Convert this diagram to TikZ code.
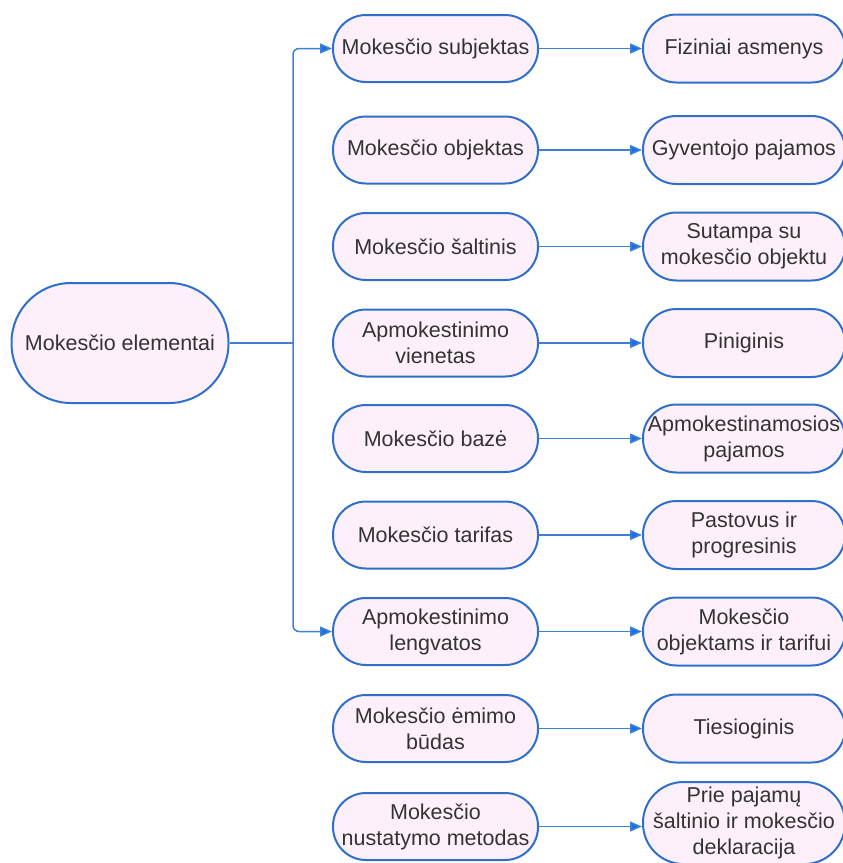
\documentclass[tikz,border=0pt]{standalone}
\usepackage{fontspec}
\setmainfont{Liberation Sans}
\usetikzlibrary{arrows.meta}
\definecolor{boxline}{HTML}{2F6FCB}
\definecolor{boxfill}{HTML}{FDF0FB}
\definecolor{txt}{HTML}{333333}
\definecolor{wire}{HTML}{3F7FD6}
\definecolor{tip}{HTML}{1C6FE3}
\tikzset{
  pill/.style={draw=boxline, line width=2pt, fill=boxfill, shape=rectangle,
    inner sep=0pt, align=center, text=txt,
    font=\fontsize{21.5}{26}\selectfont},
  midbox/.style={pill, minimum width=205pt, minimum height=67pt, rounded corners=33pt},
  outbox/.style={pill, minimum width=202pt, minimum height=68pt, rounded corners=33.5pt},
  wireline/.style={draw=wire, line width=1.5pt},
  link/.style={wireline, -{Triangle[length=12pt,width=10pt,fill=tip]}},
}
\begin{document}
\begin{tikzpicture}[x=1pt,y=-1pt]
\useasboundingbox (0,0) rectangle (843,863);

% root
\node[pill, minimum width=217pt, minimum height=120pt, rounded corners=59.5pt]
  (root) at (120,343) {Mokesčio elementai};

% element names
\node[midbox] (m1) at (435.5,48.5)  {Mokesčio subjektas};
\node[midbox] (m2) at (435.5,150)   {Mokesčio objektas};
\node[midbox] (m3) at (435.5,246.5) {Mokesčio šaltinis};
\node[midbox] (m4) at (435.5,343)   {Apmokestinimo\\vienetas};
\node[midbox] (m5) at (435.5,438.5) {Mokesčio bazė};
\node[midbox] (m6) at (435.5,535)   {Mokesčio tarifas};
\node[midbox] (m7) at (435.5,631.5) {Apmokestinimo\\lengvatos};
\node[midbox] (m8) at (435.5,728.5) {Mokesčio ėmimo\\būdas};
\node[midbox] (m9) at (435.5,826.5) {Mokesčio\\nustatymo metodas};

% element values
\node[outbox] (r1) at (744,48.5)  {Fiziniai asmenys};
\node[outbox] (r2) at (744,150)   {Gyventojo pajamos};
\node[outbox] (r3) at (744,246.5) {Sutampa su\\mokesčio objektu};
\node[outbox] (r4) at (744,343)   {Piniginis};
\node[outbox] (r5) at (744,438.5) {Apmokestinamosios\\pajamos};
\node[outbox] (r6) at (744,535)   {Pastovus ir\\progresinis};
\node[outbox] (r7) at (744,631.5) {Mokesčio\\objektams ir tarifui};
\node[outbox] (r8) at (744,728.5) {Tiesioginis};
\node[outbox, minimum height=82pt, rounded corners=40.5pt] (r9) at (744,823)
  {Prie pajamų\\šaltinio ir mokesčio\\deklaracija};

% bracket from the root
\coordinate (btip) at (290,343);
\draw[wireline] (root.east) -- (btip);
\draw[link, rounded corners=6pt] (btip) .. controls (293,343) .. (293,337) |- (m1.west);
\draw[link, rounded corners=6pt] (btip) .. controls (293,343) .. (293,349) |- (m7.west);

% element to value, level arrows
\foreach \i in {1,...,9}
  \draw[link] (m\i.east) -- (m\i.east -| r\i.west);
\end{tikzpicture}
\end{document}
